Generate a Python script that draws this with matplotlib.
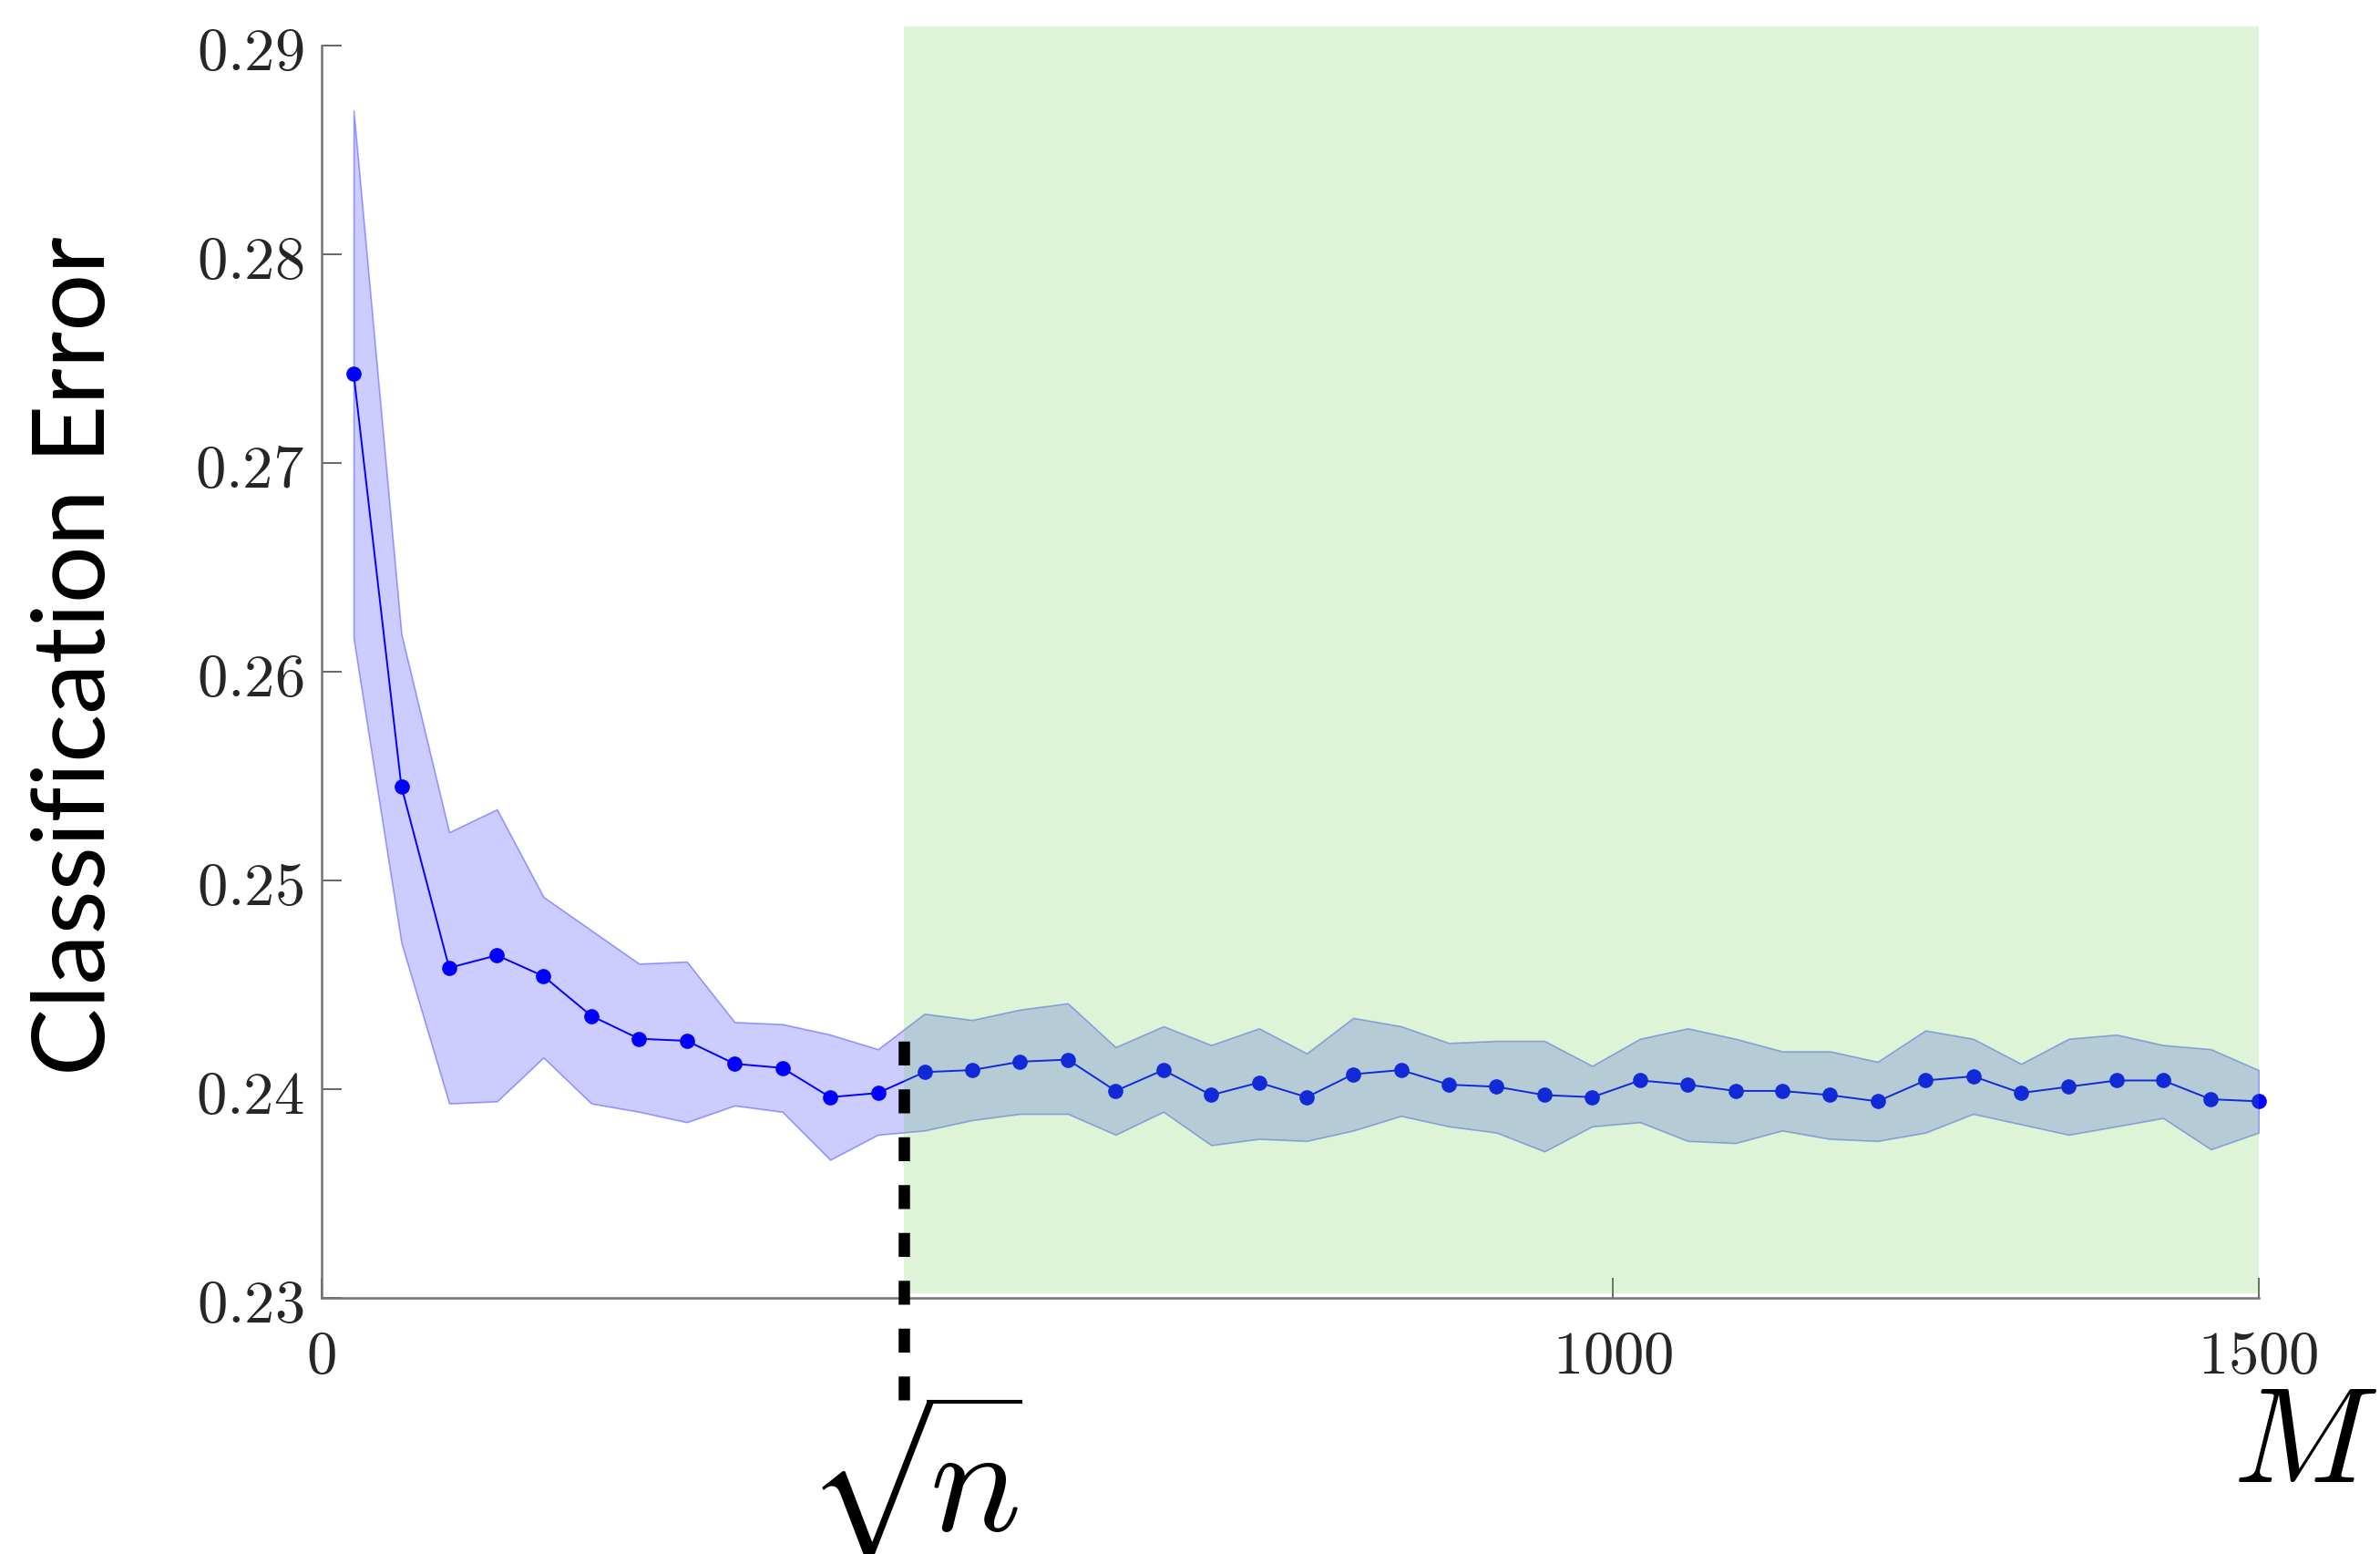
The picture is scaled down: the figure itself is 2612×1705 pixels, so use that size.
import matplotlib.pyplot as plt
from matplotlib.patches import Rectangle
from matplotlib.textpath import TextPath
from matplotlib.font_manager import FontProperties

plt.rcParams['mathtext.fontset'] = 'cm'

# number of random features M
m_vals = [25, 62, 99, 136, 172, 209, 246, 283, 320, 357, 394, 431, 467, 504,
          541, 578, 615, 652, 689, 726, 763, 799, 836, 873, 910, 947, 984,
          1021, 1058, 1095, 1131, 1168, 1205, 1242, 1279, 1316, 1353, 1390,
          1426, 1463, 1500]

err_mean = [0.2743, 0.2545, 0.2458, 0.2464, 0.2454, 0.2435, 0.2424, 0.2423,
            0.2412, 0.2410, 0.2396, 0.2398, 0.2408, 0.2409, 0.2413, 0.2414,
            0.2399, 0.2409, 0.2397, 0.2403, 0.2396, 0.2407, 0.2409, 0.2402,
            0.2401, 0.2397, 0.2396, 0.2404, 0.2402, 0.2399, 0.2399, 0.2397,
            0.2394, 0.2404, 0.2406, 0.2398, 0.2401, 0.2404, 0.2404, 0.2395,
            0.2394]

err_upper = [0.2869, 0.2618, 0.2523, 0.2534, 0.2492, 0.2476, 0.2460, 0.2461,
             0.2432, 0.2431, 0.2426, 0.2419, 0.2436, 0.2433, 0.2438, 0.2441,
             0.2420, 0.2430, 0.2421, 0.2429, 0.2417, 0.2434, 0.2430, 0.2422,
             0.2423, 0.2423, 0.2411, 0.2424, 0.2429, 0.2424, 0.2418, 0.2418,
             0.2413, 0.2428, 0.2424, 0.2412, 0.2424, 0.2426, 0.2421, 0.2419,
             0.2409]

err_lower = [0.2616, 0.2470, 0.2393, 0.2394, 0.2415, 0.2393, 0.2389, 0.2384,
             0.2392, 0.2389, 0.2366, 0.2378, 0.2380, 0.2385, 0.2388, 0.2388,
             0.2378, 0.2389, 0.2373, 0.2376, 0.2375, 0.2380, 0.2387, 0.2382,
             0.2379, 0.2370, 0.2382, 0.2384, 0.2375, 0.2374, 0.2380, 0.2376,
             0.2375, 0.2379, 0.2388, 0.2383, 0.2378, 0.2382, 0.2386, 0.2371,
             0.2379]

sqrt_n = 451
shade_top = 0.29094
shade_bottom = 0.2302
dash_bottom = 0.2251

W, H, DPI = 2612, 1706, 200
fig = plt.figure(figsize=(W / DPI, H / DPI), dpi=DPI)
ax = fig.add_axes([0.135, 0.165, 0.814, 0.805])

ax.fill_between(m_vals, err_lower, err_upper, facecolor=(0, 0, 1, 0.2),
                edgecolor=(0, 0, 1, 0.35), linewidth=0.6, zorder=2)
ax.plot(m_vals, err_mean, color='blue', linewidth=0.7, marker='o',
        markersize=6, markeredgewidth=0, zorder=3, clip_on=False)

# green region M > sqrt(n), drawn over the curve
ax.add_patch(Rectangle((sqrt_n, shade_bottom), 1500 - sqrt_n,
                       shade_top - shade_bottom, facecolor=(0.35, 0.82, 0.2),
                       alpha=0.2, linewidth=0, clip_on=False, zorder=4))

ax.plot([sqrt_n, sqrt_n], [dash_bottom, 0.2425], color='black',
        linewidth=4.5, dashes=(2.1, 2.1), solid_capstyle='butt',
        dash_capstyle='butt', clip_on=False, zorder=6)

# big radical sign: size it from the glyph's ink box
rad_prop = FontProperties(family='STIXGeneral')
ext = TextPath((0, 0), '\u221a', size=1, prop=rad_prop).get_extents()
rad_top_px = H - 1537          # pixels from the bottom of the figure
rad_height_px = 178
rad_size = rad_height_px / (ext.height * DPI / 72)
baseline_px = rad_top_px - ext.y1 * rad_size * DPI / 72
fig.text(1020 / W, baseline_px / H, '\u221a', fontproperties=rad_prop,
         fontsize=rad_size, ha='right', va='baseline', zorder=6)
ax.plot([469, 543], [0.22500, 0.22500], color='black', linewidth=1.5,
        solid_capstyle='butt', clip_on=False, zorder=6)
ax.text(505, 0.2189, r'$n$', fontsize=60, ha='center', va='baseline',
        zorder=6)

ax.set_xlim(0, 1500)
ax.set_ylim(0.23, 0.29)
yt = [0.23, 0.24, 0.25, 0.26, 0.27, 0.28, 0.29]
ax.set_yticks(yt)
ax.set_yticklabels([f'${v:.2f}$' for v in yt])
ax.set_xticks([0, 1000, 1500])
ax.set_xticklabels(['$0$', '$1000$', '$1500$'])

for s in ['top', 'right']:
    ax.spines[s].set_visible(False)
for s in ['left', 'bottom']:
    ax.spines[s].set_color('0.45')
    ax.spines[s].set_linewidth(0.9)
ax.tick_params(direction='in', length=8, width=0.6, color='0.3',
               labelsize=24, labelcolor='0.15')
ax.tick_params(axis='x', pad=11)
ax.tick_params(axis='y', pad=7)

fig.text(84 / W, 0.578, 'Classification Error', rotation=90,
         fontfamily='Lato', fontsize=40, ha='center', va='center')
fig.text(2609 / W, 1 - 1585 / H, '$M$', fontsize=54,
         ha='right', va='center')

fig.savefig('out.png', dpi=DPI)
